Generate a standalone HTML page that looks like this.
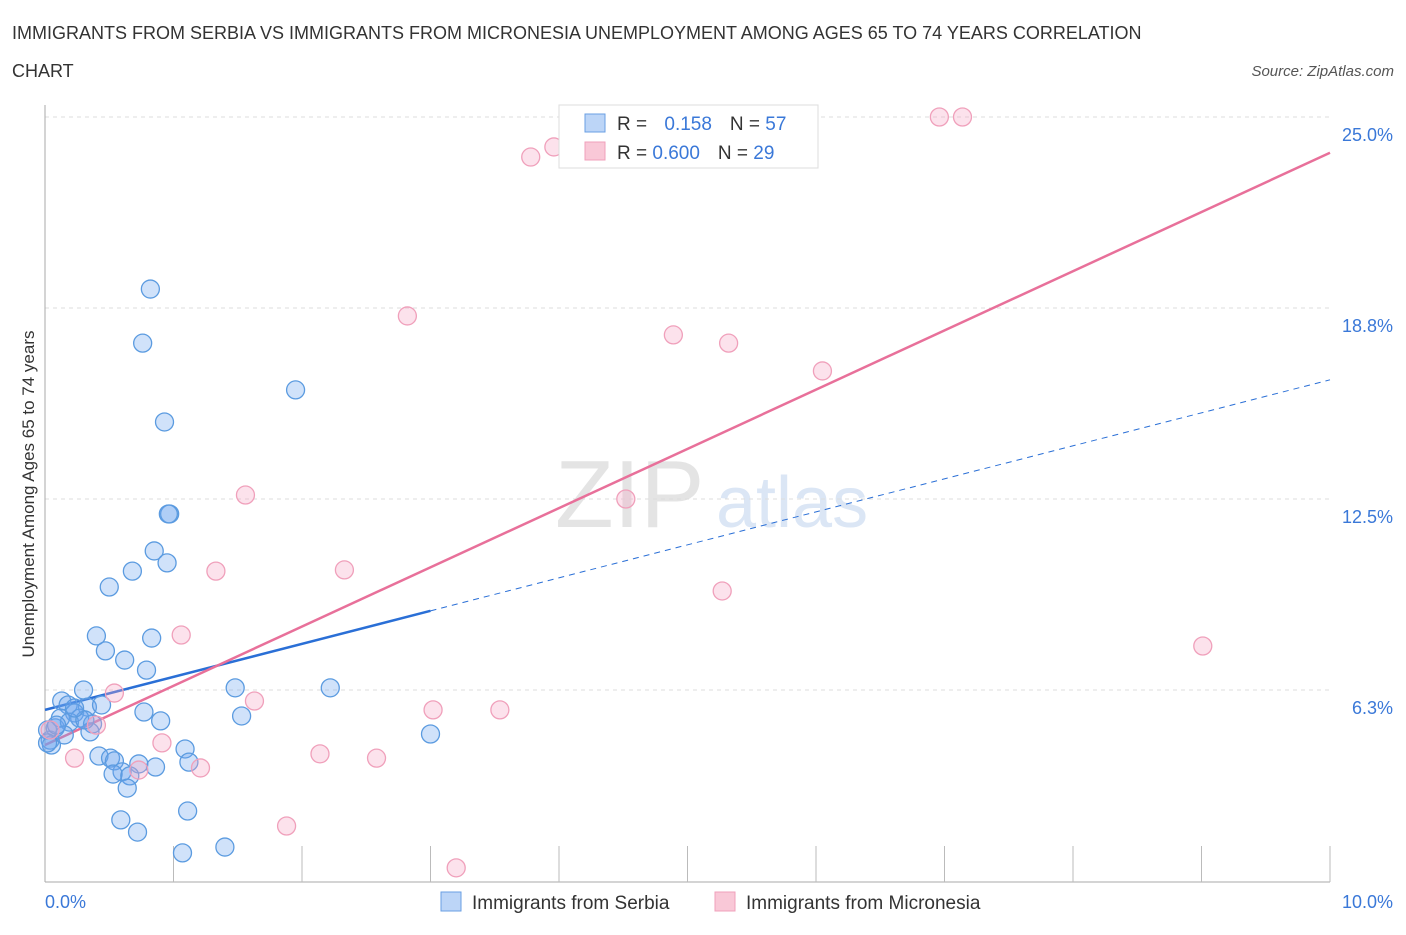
<!DOCTYPE html>
<html><head><meta charset="utf-8"><style>
body{margin:0;background:#fff;font-family:"Liberation Sans",sans-serif}
svg text{font-family:"Liberation Sans",sans-serif}
</style></head><body>
<svg id="chart" width="1406" height="930" xmlns="http://www.w3.org/2000/svg">
<text x="12" y="39" font-size="18" fill="#333">IMMIGRANTS FROM SERBIA VS IMMIGRANTS FROM MICRONESIA UNEMPLOYMENT AMONG AGES 65 TO 74 YEARS CORRELATION</text>
<text x="12" y="77" font-size="18" fill="#333">CHART</text>
<text x="1394" y="76" font-size="15" fill="#555" text-anchor="end" font-style="italic">Source: ZipAtlas.com</text>
<text x="555" y="527" font-size="96" fill="#e4e4e4" font-family="Liberation Serif">ZIP</text>
<text x="716" y="527" font-size="72" fill="#dbe6f5">atlas</text>
<g id="grid"></g><g id="axes"></g><g id="lines"></g><g id="pts"></g>
<text transform="translate(34,494) rotate(-90)" font-size="17" fill="#333" text-anchor="middle">Unemployment Among Ages 65 to 74 years</text>
<text x="45" y="908" font-size="18" fill="#3a78d8">0.0%</text>
<text x="1393" y="908" font-size="18" fill="#3a78d8" text-anchor="end">10.0%</text>
<g>
<rect x="559" y="105" width="259" height="63" fill="#fff" stroke="#ddd"/>
<rect x="585" y="114" width="20" height="18" fill="#bcd5f7" stroke="#6a9fe3"/>
<rect x="585" y="142" width="20" height="18" fill="#f9c8d7" stroke="#f0a0bb"/>
<text x="617" y="130" font-size="19" fill="#333">R = <tspan fill="#3a78d8" dx="12">0.158</tspan><tspan dx="18" fill="#333">N = </tspan><tspan fill="#3a78d8">57</tspan></text>
<text x="617" y="159" font-size="19" fill="#333">R = <tspan fill="#3a78d8">0.600</tspan><tspan dx="18" fill="#333">N = </tspan><tspan fill="#3a78d8">29</tspan></text>
</g>
<g><rect x="441" y="892" width="20" height="19" fill="#bcd5f7" stroke="#6a9fe3"/><text x="472" y="909" font-size="19" fill="#333">Immigrants from Serbia</text></g>
<g><rect x="715" y="892" width="20" height="19" fill="#f9c8d7" stroke="#f0a0bb"/><text x="746" y="909" font-size="19" fill="#333">Immigrants from Micronesia</text></g>
</svg>
<script>
const yTicks=[6.25,12.5,18.75,25];
const yTickLabels=["6.3%","12.5%","18.8%","25.0%"];
const serbiaX=[0.82,0.76,0.93,1.95,0.97,0.96,0.85,0.95,0.68,0.50,0.40,0.83,0.47,0.62,0.79,0.30,1.48,2.22,0.13,0.18,0.33,0.44,0.23,0.27,0.77,1.53,0.90,0.37,0.35,0.08,0.04,0.05,3.0,0.42,0.51,0.54,1.09,1.12,0.73,0.86,0.60,0.53,0.66,0.64,0.59,0.72,1.11,1.07,1.40,0.12,0.19,0.02,0.02,0.15,0.09,0.31,0.23];
const serbiaY=[19.37,17.6,15.02,16.07,12.01,12.01,10.8,10.41,10.14,9.62,8.02,7.95,7.53,7.23,6.9,6.25,6.32,6.32,5.89,5.76,5.69,5.76,5.5,5.33,5.53,5.4,5.24,5.14,4.88,5.01,4.61,4.45,4.81,4.09,4.02,3.93,4.32,3.89,3.83,3.73,3.57,3.5,3.44,3.04,2.0,1.6,2.29,0.92,1.11,5.33,5.2,4.94,4.52,4.78,5.1,5.27,5.66];
const micronesiaX=[3.78,3.96,6.96,7.14,2.82,4.89,5.32,6.05,1.56,4.52,1.33,2.33,5.27,1.06,9.01,1.63,0.54,3.02,3.54,0.40,0.91,0.23,0.73,1.21,2.14,2.58,1.88,3.2,0.04];
const micronesiaY=[23.69,24.02,25.0,25.0,18.49,17.87,17.6,16.69,12.63,12.5,10.14,10.18,9.49,8.05,7.69,5.89,6.15,5.6,5.6,5.1,4.52,4.02,3.63,3.7,4.16,4.02,1.8,0.43,4.94];
const serbiaTrend=[5.6,16.4]; // y at x=0 and x=10
const micronesiaTrend=[4.45,23.83];
const serbiaSolidEnd=3.0;
const NS="http://www.w3.org/2000/svg";
const sx=v=>45+v*128.5, sy=v=>881-v*30.56;
function mk(t,a,p){const e=document.createElementNS(NS,t);for(const k in a)e.setAttribute(k,a[k]);document.getElementById(p).appendChild(e);return e;}
yTicks.forEach((t,i)=>{
 const l=mk('line',{x1:45,x2:1330,y1:sy(t),y2:sy(t),stroke:'#ddd','stroke-dasharray':'4,4'},'grid');
 
 
 const tx=mk('text',{x:1393,y:sy(t)+24,'font-size':18,fill:'#3a78d8','text-anchor':'end'},'grid');
 tx.textContent=yTickLabels[i];
 
 
});
const a1=mk('line',{x1:45,x2:45,y1:105,y2:882,stroke:'#aaa'},'axes');


const a2=mk('line',{x1:45,x2:1330,y1:882,y2:882,stroke:'#aaa'},'axes');


for(let i=1;i<=10;i++){
 const t=mk('line',{x1:sx(i),x2:sx(i),y1:846,y2:882,stroke:'#bbb'},'axes');
 
 
}
function pts(X,Y,fill,stroke,name){
 X.forEach((x,i)=>{const c=mk('circle',{cx:sx(x),cy:sy(Y[i]),r:9,fill:fill,stroke:stroke,'stroke-width':1.3},'pts');
 
 });
}
pts(serbiaX,serbiaY,'rgba(110,165,240,0.32)','#5b9be0','serbia-point');
pts(micronesiaX,micronesiaY,'rgba(245,165,195,0.32)','#f0a0bb','micronesia-point');
const by=x=>serbiaTrend[0]+(serbiaTrend[1]-serbiaTrend[0])*x/10;
const l1=mk('line',{x1:sx(0),y1:sy(by(0)),x2:sx(serbiaSolidEnd),y2:sy(by(serbiaSolidEnd)),stroke:'#2a6fd6','stroke-width':2.5},'lines');


const l2=mk('line',{x1:sx(serbiaSolidEnd),y1:sy(by(serbiaSolidEnd)),x2:sx(10),y2:sy(by(10)),stroke:'#2a6fd6','stroke-width':1,'stroke-dasharray':'6,5'},'lines');


const l3=mk('line',{x1:sx(0),y1:sy(micronesiaTrend[0]),x2:sx(10),y2:sy(micronesiaTrend[1]),stroke:'#e8709a','stroke-width':2.5},'lines');


</script>
</body></html>
